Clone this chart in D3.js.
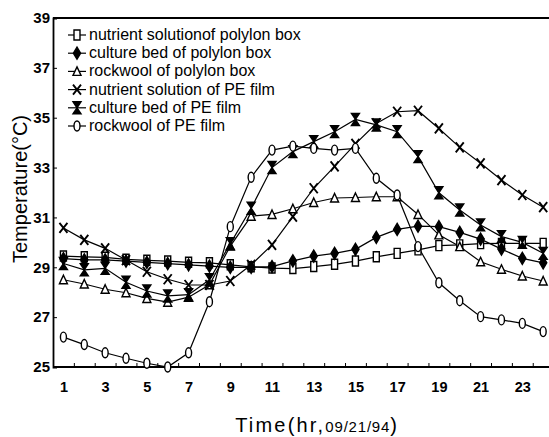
<!DOCTYPE html>
<html>
<head>
<meta charset="utf-8">
<script src="https://cdn.jsdelivr.net/npm/d3@7"></script>
<style>
  body { margin: 0; background: #fff; }
  svg { display: block; }
</style>
</head>
<body>
<div id="chart"></div>
<script>
// hours of the day, tick labels
const hours = d3.range(1, 25);
const xLabels = [1, 3, 5, 7, 9, 11, 13, 15, 17, 19, 21, 23];
const yTicks = [25, 27, 29, 31, 33, 35, 37, 39];

// temperature (°C), one value per hour
const nutrientPoly = [29.45, 29.42, 29.4, 29.32, 29.28, 29.25, 29.2, 29.18, 29.1, 29.02, 28.97, 28.95,
                      29.03, 29.12, 29.25, 29.42, 29.56, 29.7, 29.87, 29.9, 29.95, 29.96, 29.96, 29.96];
const culturePoly = [29.35, 29.3, 29.3, 29.25, 29.2, 29.15, 29.1, 29.05, 29.0, 29.0, 29.03, 29.26,
                     29.45, 29.56, 29.72, 30.2, 30.52, 30.65, 30.63, 30.4, 30.13, 29.73, 29.36, 29.18];
const rockwoolPoly = [28.5, 28.33, 28.12, 27.98, 27.75, 27.6, 27.8, 28.3, 29.85, 31.05, 31.12, 31.35,
                      31.6, 31.78, 31.8, 31.83, 31.83, 31.12, 30.3, 29.83, 29.22, 28.92, 28.65, 28.45];
const nutrientPE = [30.58, 30.1, 29.76, 29.29, 28.82, 28.52, 28.29, 28.29, 28.45, 29.1, 29.9, 31.03,
                    32.17, 33.05, 33.95, 34.77, 35.24, 35.28, 34.57, 33.81, 33.17, 32.5, 31.9, 31.41];
const culturePE = [29.15, 28.9, 28.96, 28.4, 28.05, 27.85, 27.9, 28.5, 29.95, 31.37, 33.0, 33.64,
                   34.04, 34.44, 34.93, 34.71, 34.44, 33.44, 31.99, 31.3, 30.7, 30.23, 30.0, 29.56];
const rockwoolPE = [26.2, 25.9, 25.57, 25.35, 25.15, 25.0, 25.57, 27.62, 30.63, 32.61, 33.7, 33.86,
                    33.77, 33.7, 33.77, 32.57, 31.9, 29.83, 28.38, 27.66, 27.02, 26.89, 26.75, 26.42];

const seriesNames = ["nutrient solutionof polylon box", "culture bed of polylon box", "rockwool of polylon box",
                     "nutrient solution of PE film", "culture bed of PE film", "rockwool of PE film"];
const seriesValues = [nutrientPoly, culturePoly, rockwoolPoly, nutrientPE, culturePE, rockwoolPE];
const markerKinds = ["rect", "diamond", "triangle", "cross", "hourglass", "oval"];

var width = 549, height = 437;
var margin = {top: 18, left: 53, bottom: 70};

var svg = d3.select("#chart").append("svg")
    .attr("width", width)
    .attr("height", height);

// x: each hour sits in the middle of a slot, the right edge of the frame runs off the picture
var x = d3.scaleLinear().domain([0.5, 24.5]).range([margin.left, margin.left + 500.6]);
var y = d3.scaleLinear().domain([25, 39]).range([height - margin.bottom, margin.top]);

var font = "'Liberation Sans', Arial, sans-serif";

// frame
svg.append("line")
    .attr("x1", x(0.5)).attr("x2", width)
    .attr("y1", y(39)).attr("y2", y(39))
    .attr("stroke", "#000").attr("stroke-width", 2);

var xAxis = svg.append("g")
    .attr("transform", "translate(0," + y(25) + ")")
    .call(d3.axisBottom(x).tickValues(d3.range(1.5, 24, 1)).tickSize(-4).tickFormat(""));
xAxis.select(".domain").attr("d", "M" + x(0.5) + ",0H" + width).attr("stroke-width", 1.8);

var xLab = svg.append("g")
    .attr("transform", "translate(0," + y(25) + ")")
    .call(d3.axisBottom(x).tickValues(xLabels).tickSize(0).tickPadding(15));
xLab.select(".domain").remove();
xLab.selectAll("text")
    .attr("font-family", font).attr("font-size", 14.5).attr("font-weight", "bold").attr("fill", "#000");

var yAxis = svg.append("g")
    .attr("transform", "translate(" + x(0.5) + ",0)")
    .call(d3.axisLeft(y).tickValues(yTicks).tickSize(-4).tickPadding(3));
yAxis.select(".domain").attr("stroke-width", 1.8);
yAxis.selectAll("text")
    .attr("font-family", font).attr("font-size", 15).attr("font-weight", "bold").attr("fill", "#000");
yAxis.selectAll(".tick").filter(function(d) { return d === 39 || d === 25; }).select("line").remove();

// axis titles
svg.append("text")
    .attr("transform", "translate(27,189) rotate(-90)")
    .attr("text-anchor", "middle")
    .attr("font-family", font).attr("font-size", 20)
    .text("Temperature(°C)");

var xt = svg.append("text")
    .attr("x", 316).attr("y", 432)
    .attr("text-anchor", "middle")
    .attr("font-family", font);
xt.append("tspan").attr("font-size", 20).attr("letter-spacing", 2.2).text("Time(hr,");
xt.append("tspan").attr("font-size", 15).attr("letter-spacing", 0.8).text("09/21/94");
xt.append("tspan").attr("font-size", 20).text(")");

// marker shapes, drawn around the point
var shapes = {
  rect: {d: "M-3,-5h6v10h-6Z", fill: "#fff"},
  diamond: {d: "M0,-6L3.6,0L0,6L-3.6,0Z", fill: "#000"},
  triangle: {d: "M0,-4.5L4,4H-4Z", fill: "#fff"},
  cross: {d: "M-4,-5L4,5M4,-5L-4,5", fill: "none"},
  hourglass: {d: "M-4,-6H4L0,0L4,6H-4L0,0Z", fill: "#000"},
  oval: {d: "M0,-5A3,5 0 1,1 0,5A3,5 0 1,1 0,-5Z", fill: "#fff"}
};

function drawMarker(g, kind) {
  var s = shapes[kind];
  g.append("path")
      .attr("d", s.d)
      .attr("fill", s.fill)
      .attr("stroke", "#000")
      .attr("stroke-width", kind === "cross" ? 1.9 : 1.4);
}

var line = d3.line()
    .x(function(d, i) { return x(hours[i]); })
    .y(function(d) { return y(d); });

var plot = svg.append("g");

seriesValues.forEach(function(vals) {
  plot.append("path")
      .datum(vals)
      .attr("d", line)
      .attr("fill", "none")
      .attr("stroke", "#000")
      .attr("stroke-width", 1.2);
});

seriesValues.forEach(function(vals, k) {
  plot.selectAll(null)
      .data(vals)
      .enter().append("g")
      .attr("transform", function(d, i) { return "translate(" + x(hours[i]) + "," + y(d) + ")"; })
      .each(function() { drawMarker(d3.select(this), markerKinds[k]); });
});

// legend
var legend = svg.append("g").attr("transform", "translate(68,35)");
seriesNames.forEach(function(name, k) {
  var row = legend.append("g").attr("transform", "translate(0," + (k * 18.2) + ")");
  row.append("line").attr("x1", 0).attr("x2", 18).attr("stroke", "#000").attr("stroke-width", 1.2);
  drawMarker(row.append("g").attr("transform", "translate(9,0)"), markerKinds[k]);
  row.append("text")
      .attr("x", 21).attr("y", 5)
      .attr("font-family", font).attr("font-size", 16)
      .text(name);
});
</script>
</body>
</html>
